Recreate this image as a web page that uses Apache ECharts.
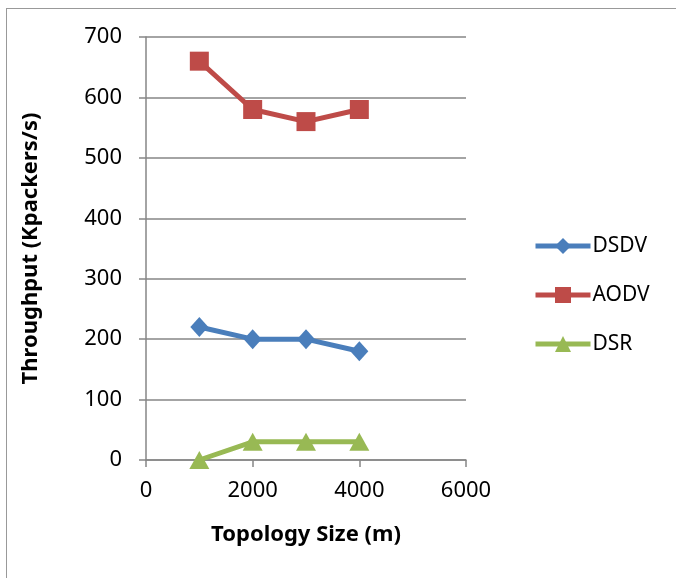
<!DOCTYPE html>
<html lang="en">
<head>
    <meta charset="UTF-8">
    <title>Throughput vs Topology Size</title>
    <script src="https://cdn.jsdelivr.net/npm/echarts@6/dist/echarts.min.js"></script>
    <style>
        html, body { margin: 0; padding: 0; background: #fff; overflow: hidden; }
        #frame { position: absolute; left: 6px; top: 8px; width: 680px; height: 580px; border-left: 1px solid #999; border-top: 1px solid #999; }
        #main { position: absolute; left: 0; top: 0; width: 676px; height: 578px; }
    </style>
</head>
<body>
<div id="frame"></div>
<div id="main"></div>
<script type="text/javascript">
    // topology size (m)
    var sizes = [1000, 2000, 3000, 4000];
    // throughput per protocol
    var dsdv = [220, 200, 200, 180];
    var aodv = [660, 580, 560, 580];
    var dsr = [0, 30, 30, 30];

    function pairs(vals) {
        return sizes.map(function (s, i) { return [s, vals[i]]; });
    }

    var font = '"Noto Sans", "Liberation Sans", sans-serif';
    var chart = echarts.init(document.getElementById('main'));

    var option = {
        animation: false,
        grid: { left: 146, right: 210, top: 37, bottom: 118 },
        legend: {
            orient: 'vertical',
            left: 533,
            top: 235,
            padding: 0,
            itemWidth: 55,
            itemHeight: 20,
            itemGap: 27,
            lineStyle: { width: 5 },
            textStyle: { fontFamily: font, fontSize: 21, lineHeight: 22, color: '#000', padding: [0, 0, 0, -3] },
            data: ['DSDV', 'AODV', 'DSR']
        },
        xAxis: {
            type: 'value',
            min: 0, max: 6000, interval: 2000,
            name: 'Topology Size (m)',
            nameLocation: 'middle',
            nameGap: 64,
            nameTextStyle: { fontFamily: font, fontSize: 22, fontWeight: 'bold', color: '#000' },
            axisLine: { show: true, lineStyle: { color: '#868686', width: 1.5 } },
            axisTick: { show: true, length: 7, inside: false, lineStyle: { color: '#868686', width: 1.5 } },
            axisLabel: { fontFamily: font, fontSize: 22, color: '#000', margin: 20, formatter: function (v) { return String(v); } },
            splitLine: { show: false }
        },
        yAxis: {
            type: 'value',
            min: 0, max: 700, interval: 100,
            name: 'Throughput (Kpackers/s)',
            nameLocation: 'middle',
            nameGap: 104,
            nameTextStyle: { fontFamily: font, fontSize: 22, fontWeight: 'bold', color: '#000' },
            axisLine: { show: true, lineStyle: { color: '#868686', width: 1.5 } },
            axisTick: { show: true, length: 7, inside: false, lineStyle: { color: '#868686', width: 1.5 } },
            axisLabel: { fontFamily: font, fontSize: 22, color: '#000', margin: 24 },
            splitLine: { show: true, lineStyle: { color: '#868686', width: 1.5 } }
        },
        series: [
            {
                name: 'DSDV', type: 'line', data: pairs(dsdv),
                symbol: 'diamond', symbolSize: [18, 20],
                lineStyle: { color: '#4A7EBB', width: 5 },
                itemStyle: { color: '#4A7EBB' }
            },
            {
                name: 'AODV', type: 'line', data: pairs(aodv),
                symbol: 'rect', symbolSize: 19,
                lineStyle: { color: '#BE4B48', width: 5 },
                itemStyle: { color: '#BE4B48' }
            },
            {
                name: 'DSR', type: 'line', data: pairs(dsr),
                symbol: 'triangle', symbolSize: [20, 18],
                lineStyle: { color: '#98B954', width: 5 },
                itemStyle: { color: '#98B954' }
            }
        ]
    };

    chart.setOption(option);
</script>
</body>
</html>
